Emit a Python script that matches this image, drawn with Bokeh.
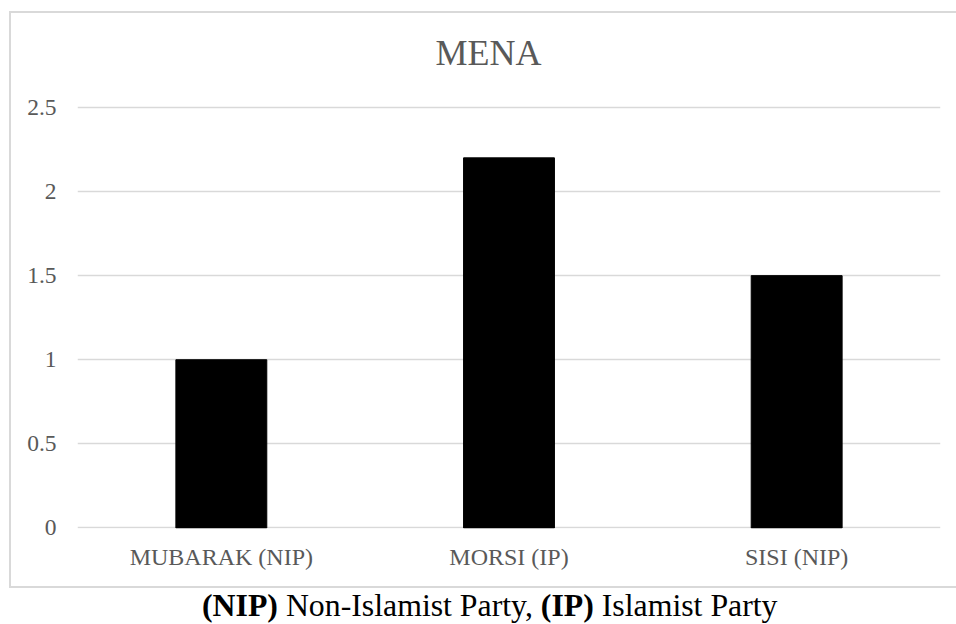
from bokeh.plotting import figure
from bokeh.models import (FactorRange, Range1d, FixedTicker, NumeralTickFormatter,
                          Label, Div, Spacer)
from bokeh.layouts import column, row
from bokeh.embed import file_html
from bokeh.resources import INLINE

categories = ["MUBARAK (NIP)", "MORSI (IP)", "SISI (NIP)"]
values = [1.0, 2.2, 1.5]
y_ticks = [0, 0.5, 1, 1.5, 2, 2.5]
title_text = "MENA"
caption_parts = [("(NIP)", True), (" Non-Islamist Party, ", False),
                 ("(IP)", True), (" Islamist Party", False)]

FONT = "Liberation Serif"
GRID = "#d9d9d9"
LABEL = "#595959"

# page geometry
BL, BT, BW = 9, 11, 2            # chart box left/top, border width
CW = 956 - BL - BW               # figure width
CH = 586 - (BT + BW)             # figure height
ox, oy = BL + BW, BT + BW        # figure origin on page
FL, FR, FB = 77, 940, 528        # frame left/right/bottom on page

p = figure(width=CW, height=CH, x_range=FactorRange(*categories, range_padding=0),
           y_range=Range1d(-0.003, 3.058), output_backend="svg", toolbar_location=None,
           min_border_left=FL - ox, min_border_right=ox + CW - FR,
           min_border_top=0, min_border_bottom=oy + CH - FB, margin=0)
p.outline_line_color = None
p.background_fill_color = "white"
p.border_fill_color = "white"

p.vbar(x=categories, top=values, width=0.316, bottom=0,
       fill_color="black", line_color="black", line_width=1)

p.xgrid.grid_line_color = None
p.ygrid.grid_line_color = GRID
p.ygrid.grid_line_width = 1.5
p.ygrid.ticker = FixedTicker(ticks=y_ticks)

p.yaxis.ticker = FixedTicker(ticks=y_ticks)
p.yaxis.formatter = NumeralTickFormatter(format="0.[0]")
p.yaxis.axis_line_color = None
p.yaxis.major_tick_line_color = None
p.yaxis.minor_tick_line_color = None
p.yaxis.major_tick_out = 0
p.yaxis.major_tick_in = 0
p.yaxis.major_label_standoff = 21
p.yaxis.major_label_text_font = FONT
p.yaxis.major_label_text_font_size = "23.5px"
p.yaxis.major_label_text_color = LABEL

p.xaxis.axis_line_color = None
p.xaxis.major_tick_line_color = None
p.xaxis.minor_tick_line_color = None
p.xaxis.major_tick_out = 0
p.xaxis.major_tick_in = 0
p.xaxis.major_label_standoff = 15
p.xaxis.major_label_text_font = FONT
p.xaxis.major_label_text_font_size = "24px"
p.xaxis.major_label_text_color = LABEL

# title inside the frame (screen units: from frame left, up from frame bottom)
p.add_layout(Label(x=488 - FL, y=FB - 52, x_units="screen", y_units="screen",
                   text=title_text, text_font=FONT, text_font_size="36px",
                   text_color=LABEL, text_align="center", text_baseline="alphabetic"))

def bar_div(w, h):
    return Div(text="", width=w, height=h, margin=0,
               styles={"background-color": GRID})

chart_box = row(
    Spacer(width=BL, height=CH + 2 * BW, margin=0),
    bar_div(BW, CH + 2 * BW),
    column(bar_div(CW, BW), p, bar_div(CW, BW), spacing=0, margin=0),
    spacing=0, margin=0)

html = "".join(f"<b>{t}</b>" if b else t.replace(" ", "&nbsp;") for t, b in caption_parts)
cap = Div(text=(f"<div style=\"font-family:'{FONT}',serif;font-size:31.8px;line-height:36px;"
                f"color:black;white-space:nowrap;padding-left:202px;\">{html}</div>"),
          width=956, height=36, margin=0)

layout = column(Spacer(width=956, height=BT, margin=0), chart_box, cap,
                spacing=0, margin=0)
open("out.html", "w").write(file_html(layout, INLINE))
